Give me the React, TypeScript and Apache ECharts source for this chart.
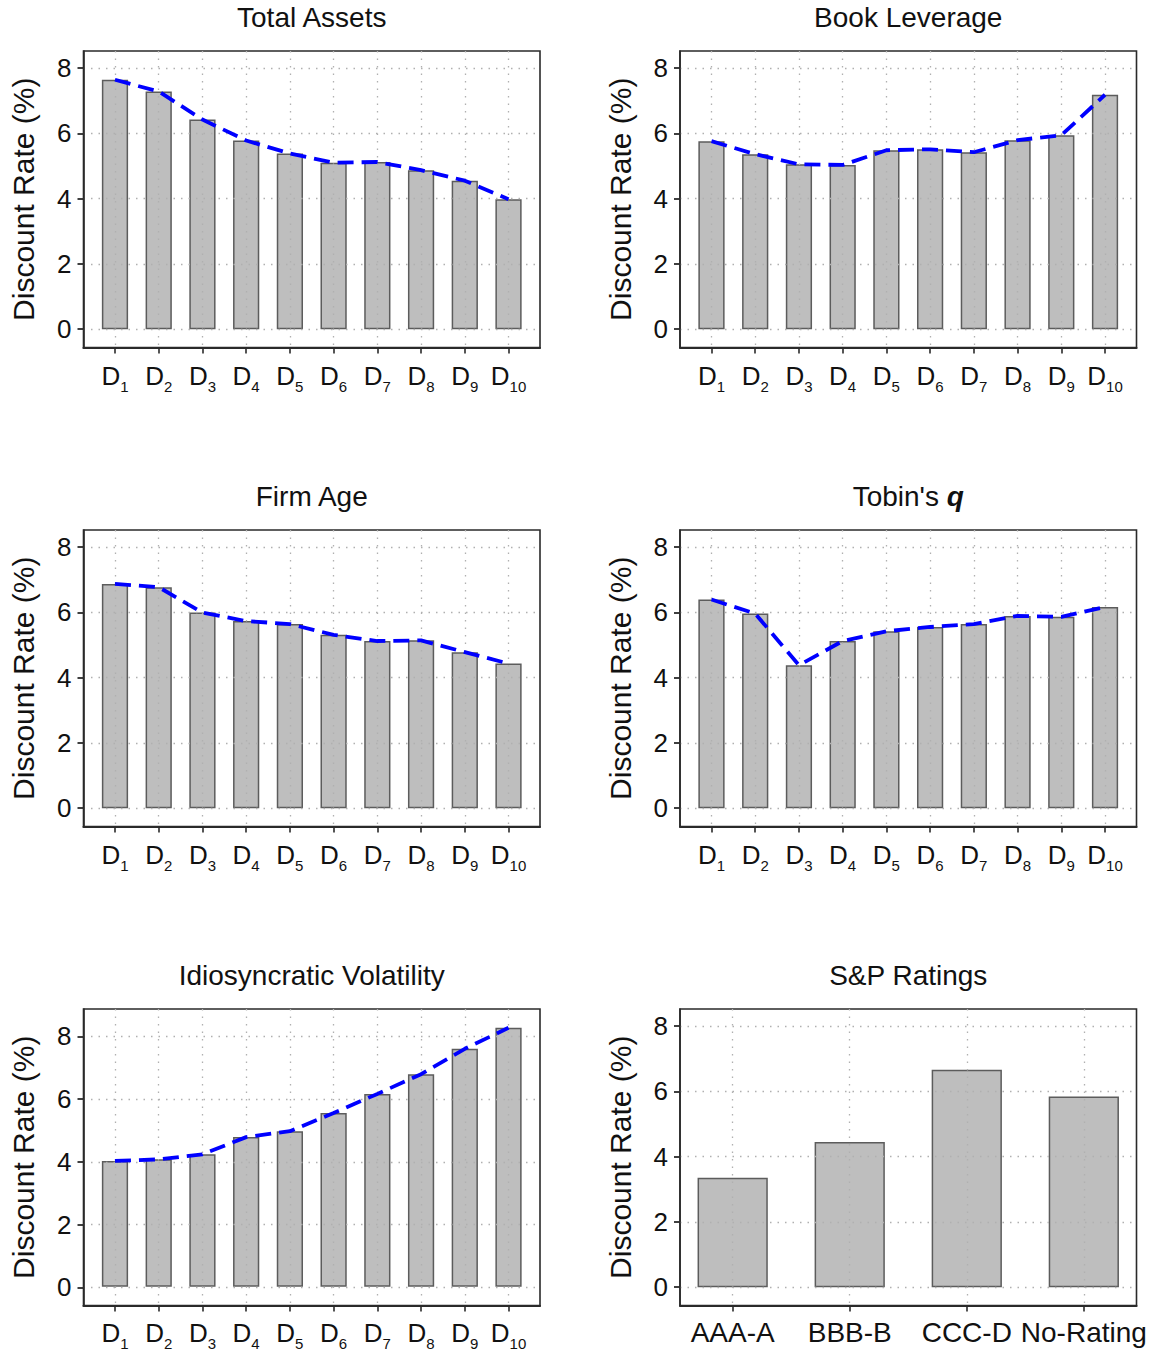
import React, { useEffect, useRef } from "react";
import * as echarts from "echarts";

// Category labels and axis ticks
const decileLabels = ["D1", "D2", "D3", "D4", "D5", "D6", "D7", "D8", "D9", "D10"];
const ratingLabels = ["AAA-A", "BBB-B", "CCC-D", "No-Rating"];
const yTicks = [0, 2, 4, 6, 8];
const yAxisTitle = "Discount Rate (%)";

// Average discount rate (%) by decile / rating group
const totalAssets = [7.64, 7.28, 6.42, 5.78, 5.38, 5.1, 5.12, 4.87, 4.55, 3.98];
const bookLeverage = [5.76, 5.36, 5.05, 5.03, 5.48, 5.51, 5.42, 5.79, 5.94, 7.18];
const firmAge = [6.87, 6.77, 5.99, 5.73, 5.64, 5.31, 5.12, 5.14, 4.78, 4.43];
const tobinsQ = [6.39, 5.96, 4.38, 5.12, 5.42, 5.55, 5.64, 5.89, 5.86, 6.16];
const idioVol = [4.02, 4.07, 4.23, 4.78, 4.97, 5.55, 6.16, 6.79, 7.6, 8.27];
const spRatings = [3.35, 4.45, 6.66, 5.84];

const FONT = "'Liberation Sans', Arial, Helvetica, sans-serif";

type Panel = {
  title: string;
  rich?: boolean;
  cats: string[];
  values: number[];
  trend: boolean;
  yMin: number;
  yMax: number;
  col: number;
  row: number;
};

const panels: Panel[] = [
  { title: "Total Assets", cats: decileLabels, values: totalAssets, trend: true, yMin: -0.56, yMax: 8.52, col: 0, row: 0 },
  { title: "Book Leverage", cats: decileLabels, values: bookLeverage, trend: true, yMin: -0.56, yMax: 8.52, col: 1, row: 0 },
  { title: "Firm Age", cats: decileLabels, values: firmAge, trend: true, yMin: -0.56, yMax: 8.52, col: 0, row: 1 },
  { title: "Tobin's {q|q}", rich: true, cats: decileLabels, values: tobinsQ, trend: true, yMin: -0.56, yMax: 8.52, col: 1, row: 1 },
  { title: "Idiosyncratic Volatility", cats: decileLabels, values: idioVol, trend: true, yMin: -0.58, yMax: 8.87, col: 0, row: 2 },
  { title: "S&P Ratings", cats: ratingLabels, values: spRatings, trend: false, yMin: -0.56, yMax: 8.52, col: 1, row: 2 },
];

const frameLefts = [83.5, 680];
const frameTops = [51, 530, 1009];
const frameWidth = 456.5;
const frameHeight = 296.5;

function buildOption() {
  const grid: any[] = [];
  const xAxis: any[] = [];
  const yAxis: any[] = [];
  const series: any[] = [];
  const graphic: any[] = [];

  const dotted = { color: "#b0b0b0", width: 1.3, type: [1.5, 6] };
  const ink = "#2a2a2a";

  panels.forEach((p, i) => {
    const n = p.cats.length;
    const pad = n > 4 ? 0.72 : 0.45; // outer gap, in category widths
    const span = n - 1 + 2 * pad;
    const step = frameWidth / span;
    const fl = frameLefts[p.col];
    const ft = frameTops[p.row];
    const fi = 2 * i;
    const di = 2 * i + 1;

    // frame grid: box, ticks, dotted grid, y labels
    grid.push({
      left: fl,
      top: ft,
      width: frameWidth,
      height: frameHeight,
      show: true,
      borderColor: ink,
      borderWidth: 1.6,
      backgroundColor: "transparent",
    });
    // data grid: category bands aligned with the frame ticks
    grid.push({
      left: fl + (pad - 0.5) * step,
      top: ft,
      width: n * step,
      height: frameHeight,
    });

    xAxis.push({
      type: "value",
      gridIndex: fi,
      min: -pad,
      max: n - 1 + pad,
      z: 3,
      axisLine: { show: true, onZero: false, lineStyle: { color: ink, width: 2.2 } },
      axisTick: {
        show: true,
        length: 6,
        customValues: p.cats.map((_, k) => k),
        lineStyle: { color: ink, width: 1.6 },
      },
      axisLabel: { show: false },
      splitLine: { show: true, lineStyle: dotted },
    });
    xAxis.push({
      type: "category",
      gridIndex: di,
      data: p.cats,
      boundaryGap: true,
      axisLine: { show: false },
      axisTick: { show: false },
      splitLine: { show: false },
      axisLabel:
        n > 4
          ? {
              interval: 0,
              margin: 10,
              formatter: (v: string) => `{d|${v[0]}}{s|${v.slice(1)}}`,
              rich: {
                d: { fontSize: 26, fontFamily: FONT, color: "#111", lineHeight: 30 },
                s: { fontSize: 15, fontFamily: FONT, color: "#111", lineHeight: 36, verticalAlign: "bottom" },
              },
            }
          : { interval: 0, margin: 13, fontSize: 28, fontFamily: FONT, color: "#111" },
    });

    yAxis.push({
      type: "value",
      gridIndex: fi,
      position: "left",
      min: p.yMin,
      max: p.yMax,
      z: 3,
      axisLine: { show: true, onZero: false, lineStyle: { color: ink, width: 1.6 } },
      axisTick: {
        show: true,
        inside: false,
        length: 6,
        customValues: yTicks,
        lineStyle: { color: ink, width: 1.8 },
      },
      axisLabel: { show: true, customValues: yTicks, margin: 12, fontSize: 26, fontFamily: FONT, color: "#111" },
      splitLine: { show: true, lineStyle: dotted },
      name: yAxisTitle,
      nameLocation: "middle",
      nameGap: 45,
      nameTextStyle: { fontSize: 30, fontFamily: FONT, color: "#111" },
    });
    yAxis.push({
      type: "value",
      gridIndex: di,
      min: p.yMin,
      max: p.yMax,
      show: false,
      splitLine: { show: false },
    });

    series.push({
      type: "bar",
      xAxisIndex: di,
      yAxisIndex: di,
      data: p.values,
      barWidth: "60%",
      z: 2,
      itemStyle: { color: "#bebebe", borderColor: "#5c5c5c", borderWidth: 1.5 },
    });
    if (p.trend) {
      series.push({
        type: "line",
        xAxisIndex: di,
        yAxisIndex: di,
        data: p.values,
        symbol: "none",
        z: 6,
        lineStyle: { color: "#0000ff", width: 3.8, type: [16, 8] },
      });
    }

    graphic.push({
      type: "text",
      x: fl + frameWidth / 2,
      y: ft - 34,
      style: {
        text: p.title,
        fontSize: 28,
        fontFamily: FONT,
        fill: "#111",
        textAlign: "center",
        textVerticalAlign: "middle",
        rich: p.rich
          ? { q: { fontSize: 28, fontFamily: FONT, fontStyle: "italic", fontWeight: "bold", fill: "#111" } }
          : undefined,
      },
    });
  });

  return {
    animation: false,
    backgroundColor: "#ffffff",
    textStyle: { fontFamily: FONT },
    grid,
    xAxis,
    yAxis,
    series,
    graphic,
  };
}

export default function App() {
  const ref = useRef<HTMLDivElement>(null);
  useEffect(() => {
    if (!ref.current) return;
    const chart = echarts.init(ref.current, undefined, { renderer: "svg" });
    chart.setOption(buildOption() as any);
    return () => chart.dispose();
  }, []);
  return (
    <div
      ref={ref}
      style={{ position: "absolute", left: 0, top: 0, width: 1151, height: 1351, background: "#fff" }}
    />
  );
}
